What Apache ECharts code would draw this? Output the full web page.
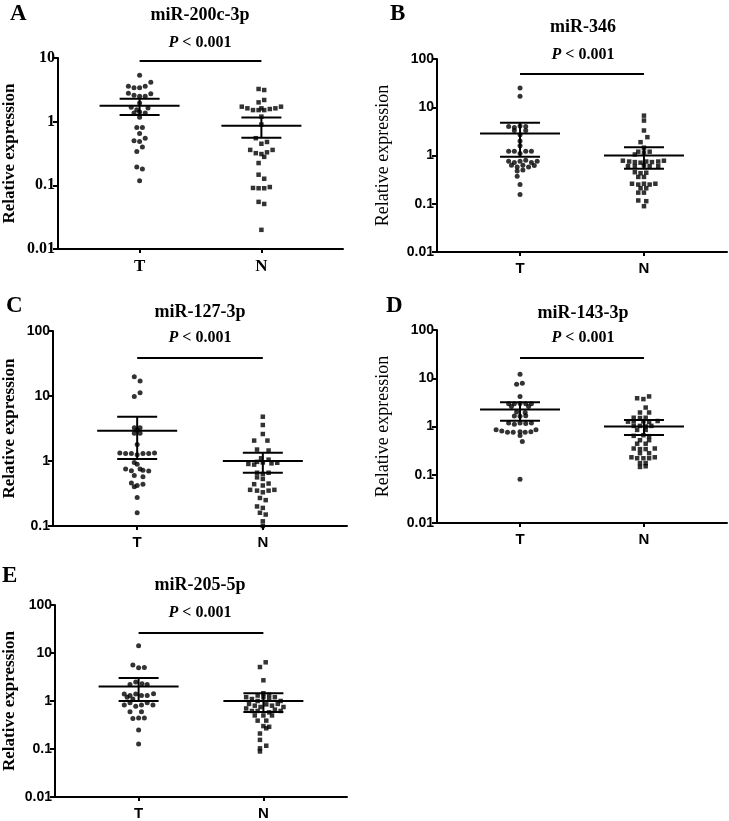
<!DOCTYPE html>
<html>
<head>
<meta charset="utf-8">
<title>miRNA relative expression</title>
<script src="https://cdn.jsdelivr.net/npm/echarts@6/dist/echarts.min.js"></script>
<style>
  html, body { margin: 0; padding: 0; background: #fff; }
  #chart { width: 729px; height: 821px; }
</style>
</head>
<body>
<div id="chart"></div>
<script>
// points are [slot offset from the group centre, relative expression]
const groups = ['T', 'N'];
const pText = 'P < 0.001';

const aTitle = 'miR-200c-3p';
const aT = [[0,5.35],[2,4.15],[-2,3.6],[-1,3.4],[0,3.4],[1,3.6],[-2,2.8],[-1,2.6],[0,2.5],[1,2.5],[2,2.75],
  [0,1.96],[-1.5,1.68],[-0.5,1.54],[1.5,1.64],[-1,1.37],[0,1.42],[1,1.37],[0,1.17],[-0.5,0.81],[0.5,0.81],
  [0,0.65],[1,0.55],[-1,0.5],[0,0.49],[0.5,0.4],[-0.5,0.34],[-0.5,0.194],[0.5,0.18],[0,0.118]];
const aN = [[-0.5,3.26],[0.5,3.14],[0.5,2.19],[-0.5,2.01],[0,1.62],[-3.5,1.72],[-2.5,1.62],[-1.5,1.52],[-0.5,1.52],
  [0.5,1.52],[1.5,1.58],[2.5,1.62],[3.5,1.72],[0,1.2],[0,0.9],[-1,0.55],[0,0.45],[1,0.48],[-2,0.36],[-1,0.32],[0,0.31],
  [1,0.33],[2,0.36],[0.5,0.28],[-0.5,0.224],[-0.5,0.147],[0.5,0.127],[-1.5,0.091],[-0.5,0.09],[0.5,0.09],[1.5,0.094],
  [-0.5,0.055],[0.5,0.051],[0,0.02]];
const aStats = [[1.78, 1.27, 2.3], [0.865, 0.56, 1.16]]; // mean, SEM low, SEM high

const bTitle = 'miR-346';
const bT = [[0,25],[0,16.9],[-2,4.0],[-1,3.8],[0,4.1],[1,4.0],[-1,3.3],[1,3.3],[0,2.7],[0,2.0],[0,1.6],
  [-2,1.23],[-1,1.23],[1,1.23],[2,1.23],[0,1.1],[-2,0.76],[-1,0.72],[0,0.76],[1,0.8],[2,0.72],[3,0.76],
  [-1.5,0.63],[-0.5,0.58],[0.5,0.63],[1.5,0.58],[2.5,0.62],[-0.5,0.48],[0.5,0.5],[-0.5,0.37],[0,0.25],[0,0.156]];
const bN = [[0,6.7],[0,5.3],[0,3.3],[0.6,2.4],[-0.6,1.89],[0,1.45],[-1,1.2],[0,1.15],[1,1.2],[-1.6,1.05],
  [-3.7,0.78],[-2.6,0.75],[-1.6,0.73],[-0.6,0.71],[0.4,0.75],[1.4,0.73],[2.5,0.75],[3.5,0.78],
  [-2.8,0.6],[-1.6,0.6],[0,0.62],[1,0.6],[2.5,0.6],[-1.6,0.45],[-0.6,0.43],[0.4,0.44],[-1,0.36],[0,0.36],
  [-2.1,0.26],[-1,0.25],[0,0.26],[1,0.25],[2,0.26],[-0.6,0.21],[0.4,0.21],[-1,0.17],[0,0.17],
  [-1,0.117],[0.4,0.113],[0,0.089]];
const bStats = [[2.85, 0.94, 4.75], [1.0, 0.53, 1.49]];

const cTitle = 'miR-127-3p';
const cT = [[-0.5,19.8],[0.5,17],[0.5,11.2],[-0.5,9.8],[-0.5,3.26],[0.5,3.26],[0,3.0],[-0.5,2.67],[0.5,2.67],[0,1.8],
  [-3,1.33],[-2,1.31],[-1,1.31],[0,1.25],[1,1.31],[2,1.31],[3,1.33],[-0.5,0.95],[0,0.89],
  [-2,0.75],[-1,0.71],[0.5,0.75],[1,0.72],[2,0.7],[-0.5,0.6],[1,0.57],[-1,0.46],[0,0.42],[1,0.44],[-0.5,0.4],
  [0,0.275],[0,0.16]];
const cN = [[0,4.8],[0,3.58],[0,2.6],[-1.5,2.06],[0.8,2.06],[-1,1.5],[1,1.45],[-0.3,1.1],[1,1.05],[-1,0.97],[0,0.95],
  [-2.5,0.9],[-1.5,0.88],[1.5,0.92],[2.5,0.94],[-1,0.66],[0,0.63],[1,0.66],[-1,0.56],[0,0.53],
  [-1.5,0.44],[0,0.42],[1,0.45],[-2.2,0.36],[-1,0.35],[0,0.33],[1,0.35],[2,0.36],
  [-0.5,0.27],[0.5,0.25],[-1,0.2],[0,0.19],[-0.5,0.16],[0.5,0.15],[0,0.118],[0,0.1]];
const cStats = [[2.93, 1.07, 4.8], [1.0, 0.66, 1.34]];

const dTitle = 'miR-143-3p';
const dT = [[0,12.1],[-0.6,7.5],[0.4,7.9],[0,4.2],[-2,2.95],[-1,2.95],[0,3.0],[1,2.95],[2,2.95],
  [-1.5,2.6],[1.5,2.6],[-0.6,2.0],[0.9,1.95],[-1,1.66],[0,1.63],[1,1.68],
  [-2,1.18],[-1,1.12],[0,1.18],[1,1.15],[2,1.18],
  [-4.2,0.86],[-3.2,0.81],[-2.2,0.76],[-1.2,0.76],[0,0.78],[0.9,0.76],[1.9,0.78],[2.8,0.86],
  [0,0.65],[0.4,0.49],[0,0.081]];
const dN = [[-1.2,3.85],[-0.1,3.7],[0.9,4.2],[0.3,2.47],[-0.7,1.95],[0.9,1.95],[-1.8,1.52],[-0.7,1.5],[0.3,1.52],
  [-2.8,1.26],[-1.8,1.28],[-0.1,1.28],[0.9,1.24],[2.4,1.3],[-1.8,1.03],[-0.7,1.03],[0.3,1.0],[1.3,1.03],
  [-1.2,0.85],[0.3,0.85],[-1.8,0.64],[-0.1,0.66],[0.9,0.63],[-0.7,0.52],[0.9,0.52],[-1.2,0.44],[0.3,0.44],
  [-1.8,0.35],[-0.7,0.34],[0.3,0.34],[1.9,0.35],[-0.7,0.28],[0.9,0.28],
  [-2.2,0.23],[-1.2,0.22],[-0.1,0.22],[0.9,0.22],[1.9,0.23],[-0.7,0.174],[0.3,0.174],[-0.7,0.145],[0.3,0.15]];
const dStats = [[2.25, 1.31, 3.2], [1.0, 0.67, 1.37]];

const eTitle = 'miR-205-5p';
const eT = [[0,14.2],[-1,5.6],[0,4.9],[1,5.0],[-0.5,2.5],[0.6,2.3],[-1.5,2.2],[1.5,2.2],
  [-2.5,1.4],[-1.5,1.3],[-0.5,1.4],[0.5,1.3],[1.5,1.3],[2.6,1.42],[-2,1.2],[-1,1.1],
  [-2.5,0.83],[-1.5,0.92],[-0.5,0.78],[0.5,0.83],[1.5,0.92],[2.5,0.83],[-1.5,0.6],[0.5,0.6],
  [-1,0.43],[0,0.44],[1,0.44],[0,0.25],[0,0.127]];
const eN = [[0.4,6.4],[-0.6,5.1],[0,2.7],[0,1.45],[-1,1.3],[1,1.35],
  [-3,1.2],[-2,1.1],[-1,1.0],[0,1.2],[1,1.1],[2,1.2],[3,1.0],
  [-2.5,0.87],[-1.5,0.8],[-0.5,0.75],[0.5,0.85],[1.5,0.8],[2.5,0.87],[3.5,0.75],
  [-3,0.7],[-2,0.62],[-1,0.62],[1,0.58],[2,0.66],[3,0.62],[-1.5,0.5],[0,0.5],[1.5,0.5],
  [-1,0.39],[0.5,0.39],[0,0.3],[1,0.29],[0.5,0.27],[-0.6,0.21],[-0.6,0.155],[0.5,0.117],[-0.6,0.103],[-0.6,0.089]];
const eStats = [[2.0, 1.0, 3.0], [1.0, 0.59, 1.45]];

const SERIF = '"Liberation Serif", "Times New Roman", serif';
const SANS = '"Liberation Sans", Arial, sans-serif';
const SLOT = 0.046; // width of one dot slot in x units

// layout per panel
const panels = [
  { letter: 'A', title: aTitle, t: aT, n: aN, stats: aStats, grid: { left: 55, top: 58, width: 288, height: 191 },
    yMin: 0.01, yMax: 10, barY: 8.9, tickFont: SERIF, tickSize: 16, nameBold: 'bold', nameSize: 17, nameGap: 40,
    letterPos: [10, 3], titlePos: [200, 15], pPos: [200, 43] },
  { letter: 'B', title: bTitle, t: bT, n: bN, stats: bStats, grid: { left: 437, top: 59, width: 290, height: 193 },
    yMin: 0.01, yMax: 100, barY: 49, tickFont: SANS, tickSize: 14, nameBold: 'normal', nameSize: 18, nameGap: 45,
    letterPos: [390, 3], titlePos: [583, 27], pPos: [583, 55] },
  { letter: 'C', title: cTitle, t: cT, n: cN, stats: cStats, grid: { left: 49, top: 331, width: 298, height: 195 },
    yMin: 0.1, yMax: 100, barY: 38.4, tickFont: SANS, tickSize: 14, nameBold: 'bold', nameSize: 17, nameGap: 35,
    letterPos: [6, 295], titlePos: [200, 312], pPos: [200, 338] },
  { letter: 'D', title: dTitle, t: dT, n: dN, stats: dStats, grid: { left: 437, top: 330, width: 290, height: 193 },
    yMin: 0.01, yMax: 100, barY: 26.3, tickFont: SANS, tickSize: 14, nameBold: 'normal', nameSize: 18, nameGap: 45,
    letterPos: [386, 295], titlePos: [583, 313], pPos: [583, 338] },
  { letter: 'E', title: eTitle, t: eT, n: eN, stats: eStats, grid: { left: 52, top: 605, width: 295, height: 193 },
    yMin: 0.01, yMax: 100, barY: 26.3, tickFont: SANS, tickSize: 14, nameBold: 'bold', nameSize: 17, nameGap: 37,
    letterPos: [2, 565], titlePos: [200, 585], pPos: [200, 613] }
];

function fmtTick(v) {
  return v >= 1 ? String(Math.round(v)) : String(Number(v.toPrecision(1)));
}

const grid = [], xAxis = [], yAxis = [], series = [], graphic = [];

panels.forEach((p, i) => {
  grid.push(p.grid);
  xAxis.push({
    gridIndex: i, type: 'value', min: 0.33, max: 2.67,
    splitLine: { show: false },
    axisLine: { lineStyle: { color: '#000', width: 2 } },
    axisTick: { customValues: [1, 2], length: 4, lineStyle: { color: '#000', width: 2 } },
    axisLabel: {
      customValues: [1, 2], formatter: v => groups[Math.round(v) - 1],
      color: '#000', fontFamily: p.tickFont, fontWeight: 'bold', fontSize: p.tickSize + 1, margin: 9
    }
  });
  yAxis.push({
    gridIndex: i, type: 'log', logBase: 10, min: p.yMin, max: p.yMax,
    name: 'Relative expression', nameLocation: 'middle', nameGap: p.nameGap, nameRotate: 90,
    nameTextStyle: { fontFamily: SERIF, fontWeight: p.nameBold, fontSize: p.nameSize, color: '#000' },
    splitLine: { show: false },
    minorTick: { show: false },
    axisLine: { show: true, lineStyle: { color: '#000', width: 2 } },
    axisTick: { length: 5, lineStyle: { color: '#000', width: 2 } },
    axisLabel: { formatter: fmtTick, color: '#000', fontFamily: p.tickFont, fontWeight: 'bold', fontSize: p.tickSize, margin: 3 }
  });

  [p.t, p.n].forEach((pts, g) => {
    const s = {
      type: 'scatter', xAxisIndex: i, yAxisIndex: i,
      symbol: g === 0 ? 'circle' : 'rect', symbolSize: g === 0 ? 5 : 4.5,
      itemStyle: { color: '#000' }, silent: true,
      data: pts.map(d => [g + 1 + d[0] * SLOT, d[1]])
    };
    if (g === 0) {
      s.markLine = {
        silent: true, symbol: 'none', label: { show: false },
        lineStyle: { color: '#000', width: 2, type: 'solid' },
        data: [[{ coord: [1, p.barY] }, { coord: [2, p.barY] }]]
      };
    }
    series.push(s);
  });

  series.push({
    type: 'custom', xAxisIndex: i, yAxisIndex: i, silent: true, z: 5,
    data: p.stats.map((st, g) => [g + 1, st[0], st[1], st[2]]),
    encode: { x: 0, y: 1 },
    renderItem: (params, api) => {
      const c = api.coord([api.value(0), api.value(1)]);
      const lo = api.coord([api.value(0), api.value(2)]);
      const hi = api.coord([api.value(0), api.value(3)]);
      const ls = { stroke: '#000', lineWidth: 2 };
      return {
        type: 'group',
        children: [
          { type: 'line', shape: { x1: c[0] - 40, y1: c[1], x2: c[0] + 40, y2: c[1] }, style: ls },
          { type: 'line', shape: { x1: c[0] - 20, y1: lo[1], x2: c[0] + 20, y2: lo[1] }, style: ls },
          { type: 'line', shape: { x1: c[0] - 20, y1: hi[1], x2: c[0] + 20, y2: hi[1] }, style: ls },
          { type: 'line', shape: { x1: c[0], y1: lo[1], x2: c[0], y2: hi[1] }, style: ls }
        ]
      };
    }
  });

  graphic.push(
    { type: 'text', left: p.letterPos[0], top: p.letterPos[1],
      style: { text: p.letter, font: 'bold 23px ' + SERIF, fill: '#000' } },
    { type: 'text', x: p.titlePos[0], y: p.titlePos[1],
      style: { text: p.title, font: 'bold 18px ' + SERIF, fill: '#000', align: 'center', verticalAlign: 'middle' } },
    { type: 'text', x: p.pPos[0], y: p.pPos[1],
      style: {
        text: '{it|P}{rg| < 0.001}', align: 'center', verticalAlign: 'middle', fill: '#000',
        rich: {
          it: { fontFamily: SERIF, fontWeight: 'bold', fontStyle: 'italic', fontSize: 16, fill: '#000' },
          rg: { fontFamily: SERIF, fontWeight: 'bold', fontSize: 16, fill: '#000' }
        }
      } }
  );
});

const chart = echarts.init(document.getElementById('chart'));
chart.setOption({
  animation: false,
  backgroundColor: '#fff',
  grid, xAxis, yAxis, series, graphic
});
</script>
</body>
</html>
